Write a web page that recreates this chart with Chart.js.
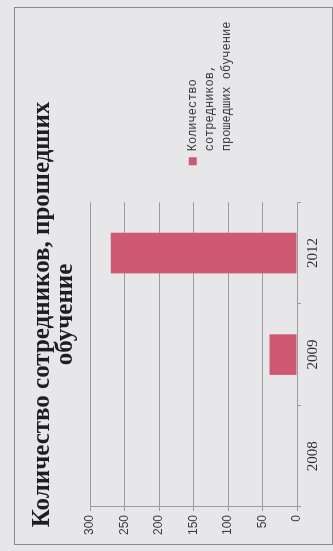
<!DOCTYPE html>
<html>
<head>
<meta charset="utf-8">
<script src="https://cdn.jsdelivr.net/npm/chart.js@4"></script>
<style>
  html, body { margin: 0; padding: 0; background: #e7e7ea; overflow: hidden; }
  /* the photographed page is turned a quarter turn, so the chart is too */
  #turn {
    position: absolute; left: 0; top: 0;
    width: 551px; height: 333px;
    transform-origin: top left;
    transform: translateY(551px) rotate(-90deg);
  }
  #frame {
    position: absolute; left: 6px; top: 14px;
    width: 536px; height: 317px;
    border: 1px solid #8a8a8e;
  }
  canvas { position: absolute; left: 0; top: 0; }
</style>
</head>
<body>
<div id="turn">
  <div id="frame"></div>
  <canvas id="trainingChart" width="551" height="333"></canvas>
</div>
<script>
// chart data
const categories = ["2008", "2009", "2012"];
const trainedStaff = [0, 40, 270];
const titleLines = ["Количество сотредников, прошедших", "обучение"];
const legendLines = ["Количество", "сотредников,", "прошедших обучение"];
const valueMin = 0;
const valueMax = 300;
const valueStep = 50;

const barColor = "#cf5872";
const gridColor = "#9c9ca0";

// the legend box is capped narrower than its long last line, let it draw past the cap
const legendClipFix = {
  id: "legendClipFix",
  afterLayout(chart) {
    if (chart.legend) chart.legend.right = chart.width - 8;
  },
};

document.addEventListener("DOMContentLoaded", function () {
  const ctx = document.getElementById("trainingChart").getContext("2d");

  new Chart(ctx, {
    type: "bar",
    data: {
      labels: categories,
      datasets: [
        {
          label: legendLines,
          data: trainedStaff,
          backgroundColor: barColor,
          borderWidth: 0,
          barPercentage: 0.4,
          categoryPercentage: 1,
        },
      ],
    },
    plugins: [legendClipFix],
    options: {
      responsive: false,
      animation: false,
      devicePixelRatio: 1,
      layout: { padding: { top: 31, bottom: 8, left: 12, right: 90 } },
      plugins: {
        tooltip: { enabled: false },
        title: {
          display: true,
          text: titleLines,
          color: "#1e1e22",
          font: { family: "Liberation Serif", size: 25, weight: "bold", lineHeight: 0.92 },
          padding: { top: 0, bottom: 13 },
        },
        legend: {
          position: "right",
          align: "start",
          // empty legend title only pushes the item down beside the bars
          title: {
            display: true,
            text: " ",
            padding: { top: 102, bottom: 0 },
            font: { size: 12, lineHeight: 1.4 },
          },
          labels: {
            boxWidth: 8,
            boxHeight: 8,
            padding: 37,
            color: "#3a3a3e",
            font: { family: "Liberation Mono", size: 12, lineHeight: 1.4 },
          },
        },
      },
      scales: {
        x: {
          grid: {
            display: true,
            drawOnChartArea: false,
            drawTicks: true,
            tickLength: 4,
            color: gridColor,
          },
          border: { display: true, color: gridColor },
          ticks: {
            color: "#2e2e32",
            padding: 3,
            font: { family: "Liberation Serif", size: 15 },
          },
        },
        y: {
          min: valueMin,
          max: valueMax,
          grid: { color: gridColor, tickLength: 4 },
          border: { display: true, color: gridColor },
          ticks: {
            stepSize: valueStep,
            color: "#3a3a3e",
            padding: 4,
            font: { family: "Liberation Sans", size: 12 },
          },
        },
      },
    },
  });
});
</script>
</body>
</html>
